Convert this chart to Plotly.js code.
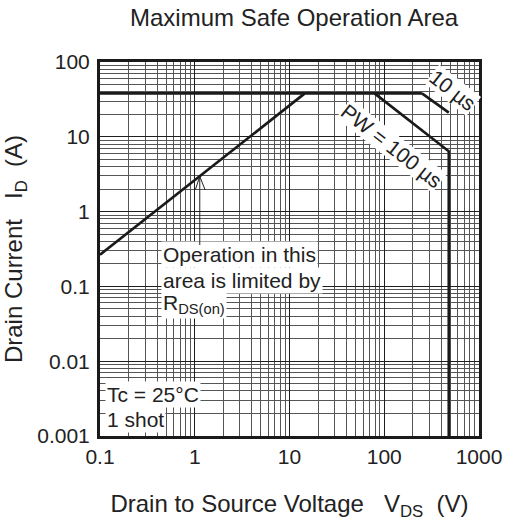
<!DOCTYPE html>
<html>
<head>
<meta charset="utf-8">
<script src="https://cdn.plot.ly/plotly-3.0.1.min.js"></script>
<style>html,body{margin:0;padding:0;background:#fff;}#chart{width:505px;height:529px;}</style>
</head>
<body>
<div id="chart"></div>
<script>
// Data (V in volts, I in amperes)
const rdsV = [0.1, 14.5];
const rdsI = [0.265, 38];
const dcV = [0.1, 250];
const dcI = [38, 38];
const pw100V = [79, 480, 480];
const pw100I = [38, 6.4, 0.001];
const pw10V = [250, 480];
const pw10I = [38, 21];
const arrowV = 1.13;
const arrowI = 2.95;
const xTickVals = [0.1, 1, 10, 100, 1000];
const xTickText = ['0.1', '1', '10', '100', '1000'];
const yTickVals = [0.001, 0.01, 0.1, 1, 10, 100];
const yTickText = ['0.001', '0.01', '0.1', '1', '10', '100'];

const FONT = 'Liberation Sans, Arial, sans-serif';
const TXT = '#222';
const lineStyle = {color: '#1a1a1a', width: 2.7};
const mk = (x, y) => ({x, y, mode: 'lines', line: lineStyle, hoverinfo: 'skip', showlegend: false});

const traces = [mk(rdsV, rdsI), mk(dcV, dcI), mk(pw100V, pw100I), mk(pw10V, pw10I)];

const axisCommon = {
  type: 'log',
  showline: true, mirror: true, linecolor: '#1a1a1a', linewidth: 3,
  showgrid: true, gridcolor: '#1e1e1e', gridwidth: 1,
  minor: {dtick: 'D1', showgrid: true, gridcolor: '#555', gridwidth: 1, ticks: ''},
  ticks: '', zeroline: false,
  tickfont: {family: FONT, size: 21, color: TXT}
};

const nb = '\u00a0';
const annFont = {family: FONT, size: 21, color: TXT};
const textLine = (text, x, y) => ({xref: 'paper', yref: 'paper', x, y, xanchor: 'left', yanchor: 'middle',
  align: 'left', text, showarrow: false, bgcolor: '#fff', borderpad: 1, font: annFont});

const layout = {
  width: 505, height: 529,
  margin: {l: 100, r: 26, t: 62, b: 93},
  paper_bgcolor: '#fff', plot_bgcolor: '#fff',
  showlegend: false,
  title: {text: 'Maximum Safe Operation Area', x: 0.512, xref: 'paper', xanchor: 'center',
          y: 1 - 18/529, yref: 'container', yanchor: 'middle',
          font: {family: FONT, size: 24, color: TXT}},
  xaxis: Object.assign({}, axisCommon, {
    range: [-1, 3], tickvals: xTickVals, ticktext: xTickText,
    title: {text: 'Drain to Source Voltage' + nb + nb + nb + 'V<sub>DS</sub>' + nb + nb + '(V)', standoff: 28,
            font: {family: FONT, size: 24, color: TXT}}
  }),
  yaxis: Object.assign({}, axisCommon, {
    range: [-3, 2], tickvals: yTickVals, ticktext: yTickText, ticklabelstandoff: 3,
    title: {text: 'Drain Current' + nb + nb + nb + 'I<sub>D</sub>' + nb + nb + '(A)', standoff: 10,
            font: {family: FONT, size: 24, color: TXT}}
  }),
  annotations: [
    textLine('Operation in this', 0.161, 0.484),
    textLine('area is limited by', 0.161, 0.417),
    textLine('R<sub>DS(on)</sub>', 0.161, 0.352),
    textLine('Tc = 25°C', 0.013, 0.110),
    textLine('1 shot', 0.013, 0.043),
    {xref: 'paper', yref: 'paper', x: 0.932, y: 0.925, xanchor: 'center', yanchor: 'middle',
     text: '10 µs', textangle: 38, showarrow: false, bgcolor: '#fff', borderpad: 0, font: annFont},
    {xref: 'paper', yref: 'paper', x: 0.768, y: 0.776, xanchor: 'center', yanchor: 'middle',
     text: 'PW = 100 µs', textangle: 38, showarrow: false, bgcolor: '#fff', borderpad: 0, font: annFont},
    // arrow shaft and open head pointing at the R_DS(on) line
    {x: Math.log10(arrowV), y: Math.log10(arrowI), xref: 'x', yref: 'y', text: '', showarrow: true,
     arrowhead: 0, arrowwidth: 1, arrowcolor: TXT, ax: 0, ay: 70, standoff: 0},
    {x: Math.log10(arrowV), y: Math.log10(arrowI), xref: 'x', yref: 'y', text: '', showarrow: true,
     arrowhead: 0, arrowwidth: 1, arrowcolor: TXT, ax: -5, ay: 15, standoff: 0},
    {x: Math.log10(arrowV), y: Math.log10(arrowI), xref: 'x', yref: 'y', text: '', showarrow: true,
     arrowhead: 0, arrowwidth: 1, arrowcolor: TXT, ax: 6, ay: 15, standoff: 0}
  ]
};

Plotly.newPlot('chart', traces, layout, {staticPlot: true, displayModeBar: false});
</script>
</body>
</html>
